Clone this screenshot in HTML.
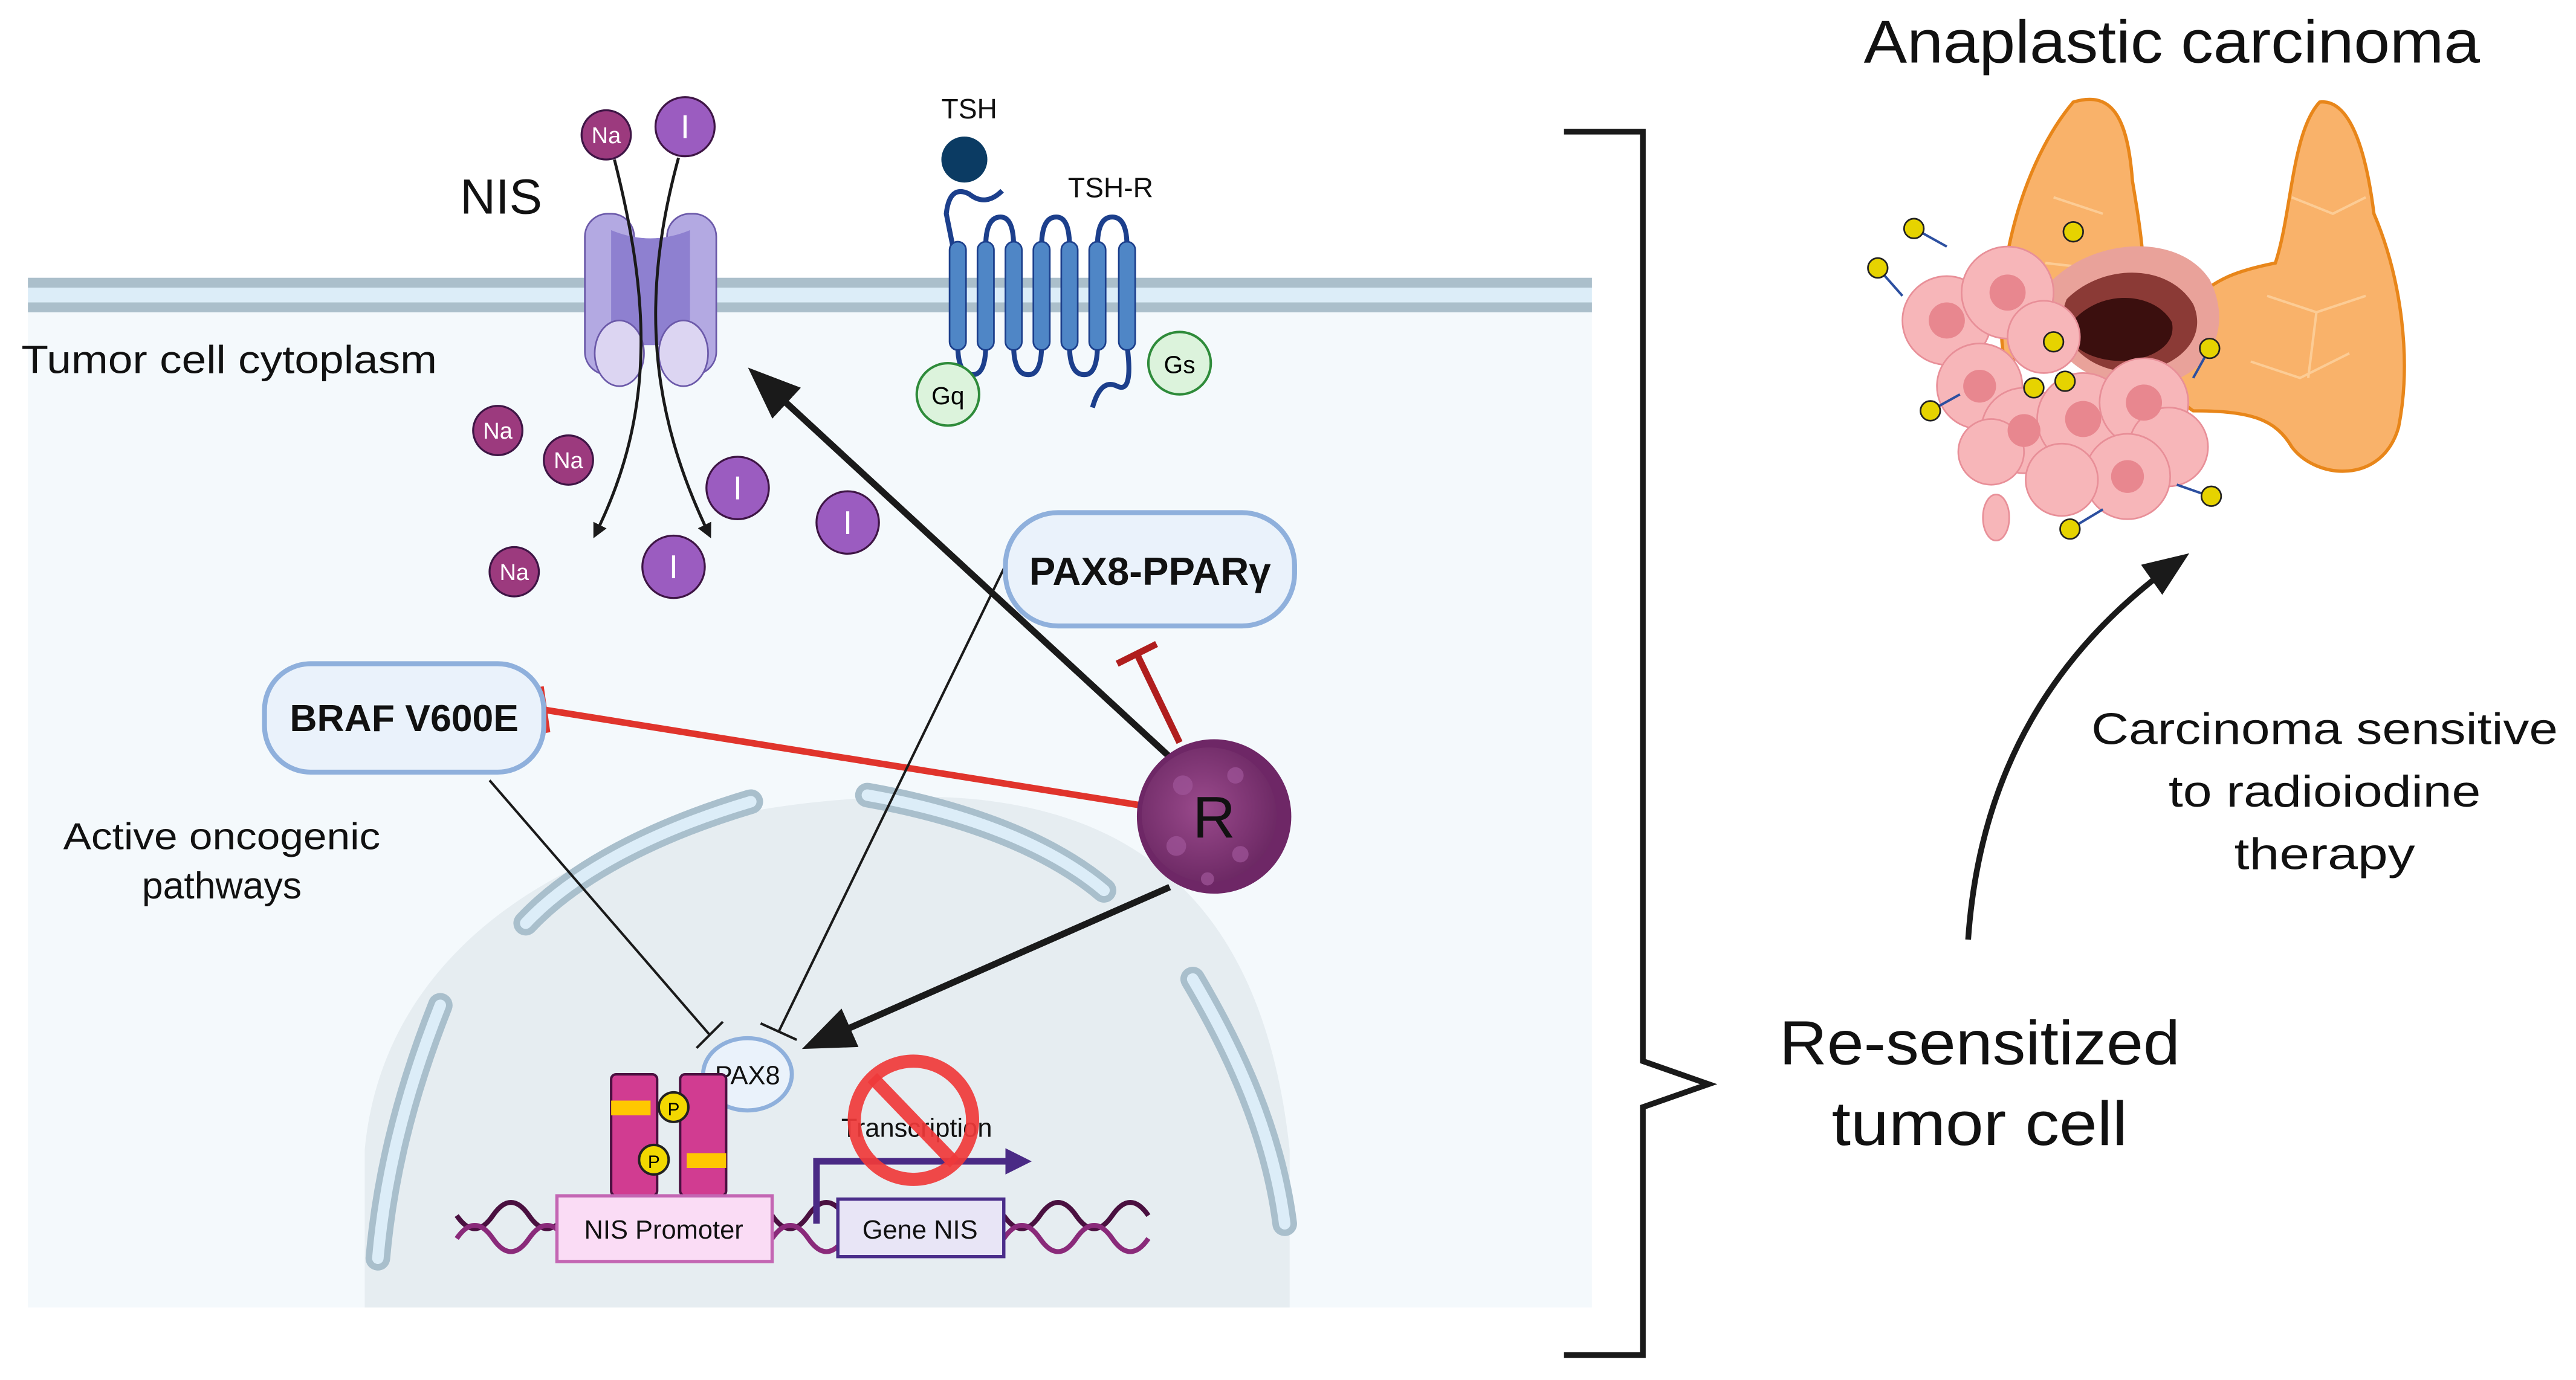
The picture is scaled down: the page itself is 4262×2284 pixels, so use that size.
<!DOCTYPE html>
<html><head><meta charset="utf-8"><style>
html,body{margin:0;padding:0;background:#fff}
svg{display:block}
text{font-family:"Liberation Sans",sans-serif}
</style></head><body>
<svg width="4262" height="2284" viewBox="0 0 1568 840" xmlns="http://www.w3.org/2000/svg">
<defs>
<marker id="ah" viewBox="0 0 10 10" refX="8" refY="5" markerWidth="5" markerHeight="5" orient="auto"><path d="M0,0 L10,5 L0,10 z" fill="#1a1a1a"/></marker>
<marker id="ahs" viewBox="0 0 10 10" refX="8" refY="5" markerWidth="8" markerHeight="8" orient="auto"><path d="M0,1 L10,5 L0,9 z" fill="#1a1a1a"/></marker>
<marker id="ahp" viewBox="0 0 10 10" refX="5" refY="5" markerWidth="4" markerHeight="4" orient="auto"><path d="M0,0 L10,5 L0,10 z" fill="#4a2a85"/></marker>
<radialGradient id="rg" cx="0.45" cy="0.45" r="0.6"><stop offset="0" stop-color="#9a4a8c"/><stop offset="1" stop-color="#6a2762"/></radialGradient>
</defs>
<rect width="1568" height="840" fill="#fff"/>
<rect x="17" y="190" width="952" height="606" fill="#f4f9fc"/>
<rect x="17" y="169" width="952" height="21" fill="#dcedf8"/>
<rect x="17" y="169" width="952" height="6" fill="#abbfcb"/>
<rect x="17" y="184" width="952" height="6" fill="#abbfcb"/>
<path d="M222,796 L222,700 C235,560 380,485 560,485 C700,485 770,560 785,700 L785,796 Z" fill="#e6edf1"/>
<g fill="none" stroke-linecap="round">
<g stroke="#a9bfcc" stroke-width="15">
<path d="M268,612 C245,670 234,720 230,766"/>
<path d="M457,488 C400,505 350,530 320,562"/>
<path d="M528,484 C590,495 640,515 672,542"/>
<path d="M726,596 C752,640 775,690 782,745"/>
</g>
<g stroke="#dcedf8" stroke-width="7">
<path d="M268,612 C245,670 234,720 230,766"/>
<path d="M457,488 C400,505 350,530 320,562"/>
<path d="M528,484 C590,495 640,515 672,542"/>
<path d="M726,596 C752,640 775,690 782,745"/>
</g>
</g>
<rect x="356" y="130" width="30" height="98" rx="14" fill="#b3a9e2" stroke="#6b59a9" stroke-width="1"/>
<rect x="406" y="130" width="30" height="98" rx="14" fill="#b3a9e2" stroke="#6b59a9" stroke-width="1"/>
<path d="M372,140 Q396,150 420,140 L420,210 L372,210 Z" fill="#8e80d0"/>
<ellipse cx="377" cy="215" rx="15" ry="20" fill="#dcd5f2" stroke="#6b59a9" stroke-width="1"/>
<ellipse cx="416" cy="215" rx="15" ry="20" fill="#dcd5f2" stroke="#6b59a9" stroke-width="1"/>
<text x="305" y="130" font-size="30" text-anchor="middle" fill="#111">NIS</text>
<text x="13" y="227" font-size="24" fill="#111" textLength="253" lengthAdjust="spacingAndGlyphs">Tumor cell cytoplasm</text>
<path d="M374,97 C395,180 400,250 362,326" fill="none" stroke="#1a1a1a" stroke-width="1.8" marker-end="url(#ah)"/>
<path d="M413,96 C390,180 395,250 432,326" fill="none" stroke="#1a1a1a" stroke-width="1.8" marker-end="url(#ah)"/>
<g stroke="#3e1545" stroke-width="1.2">
<circle cx="369" cy="82" r="15" fill="#9c3a7e"/>
<circle cx="303" cy="262" r="15" fill="#9c3a7e"/>
<circle cx="346" cy="280" r="15" fill="#9c3a7e"/>
<circle cx="313" cy="348" r="15" fill="#9c3a7e"/>
<circle cx="417" cy="77" r="18" fill="#9b5cc0"/>
<circle cx="449" cy="297" r="19" fill="#9b5cc0"/>
<circle cx="516" cy="318" r="19" fill="#9b5cc0"/>
<circle cx="410" cy="345" r="19" fill="#9b5cc0"/>
</g>
<g fill="#fff" font-size="14" text-anchor="middle">
<text x="369" y="87">Na</text><text x="303" y="267">Na</text><text x="346" y="285">Na</text><text x="313" y="353">Na</text>
<text x="417" y="84" font-size="20">I</text><text x="449" y="304" font-size="20">I</text><text x="516" y="325" font-size="20">I</text><text x="410" y="352" font-size="20">I</text>
</g>
<text x="590" y="72" font-size="17" text-anchor="middle" fill="#111">TSH</text>
<circle cx="587" cy="97" r="14" fill="#0b3b63"/>
<text x="676" y="120" font-size="17" text-anchor="middle" fill="#111">TSH-R</text>
<path d="M610,116 Q600,126 590,118 Q578,112 576,130 L580,150" fill="none" stroke="#1c3f8c" stroke-width="3"/>
<path d="M583,210 Q583,228 592,228 Q600,228 600,210 M600,150 Q600,132 609,132 Q617,132 617,150 M617,210 Q617,228 626,228 Q634,228 634,210 M634,150 Q634,132 643,132 Q651,132 651,150 M651,210 Q651,228 660,228 Q668,228 668,210 M668,150 Q668,132 677,132 Q686,132 686,150 M686,210 Q690,240 680,235 Q670,230 665,248" fill="none" stroke="#1c3f8c" stroke-width="3"/>
<g fill="#4f86c6" stroke="#1c3f8c" stroke-width="1">
<rect x="578" y="147" width="10" height="66" rx="5"/><rect x="595" y="147" width="10" height="66" rx="5"/><rect x="612" y="147" width="10" height="66" rx="5"/><rect x="629" y="147" width="10" height="66" rx="5"/><rect x="646" y="147" width="10" height="66" rx="5"/><rect x="663" y="147" width="10" height="66" rx="5"/><rect x="681" y="147" width="10" height="66" rx="5"/>
</g>
<circle cx="577" cy="240" r="19" fill="#dcf3dc" stroke="#2e8b3a" stroke-width="1.5"/>
<circle cx="718" cy="221" r="19" fill="#dcf3dc" stroke="#2e8b3a" stroke-width="1.5"/>
<text x="577" y="246" font-size="15" text-anchor="middle">Gq</text>
<text x="718" y="227" font-size="15" text-anchor="middle">Gs</text>
<line x1="722" y1="470" x2="460" y2="228" stroke="#1a1a1a" stroke-width="4" marker-end="url(#ahs)"/>
<line x1="693" y1="490" x2="331" y2="432" stroke="#e0342c" stroke-width="4"/>
<line x1="329" y1="418" x2="333" y2="446" stroke="#e0342c" stroke-width="4"/>
<line x1="718" y1="452" x2="692" y2="398" stroke="#b01e1e" stroke-width="4"/>
<line x1="680" y1="404" x2="704" y2="392" stroke="#b01e1e" stroke-width="4"/>
<line x1="298" y1="475" x2="432" y2="630" stroke="#1a1a1a" stroke-width="1.5"/>
<line x1="424" y1="638" x2="440" y2="622" stroke="#1a1a1a" stroke-width="1.5"/>
<line x1="613" y1="342" x2="474" y2="628" stroke="#1a1a1a" stroke-width="1.5"/>
<line x1="463" y1="623" x2="485" y2="633" stroke="#1a1a1a" stroke-width="1.5"/>
<line x1="712" y1="540" x2="494" y2="636" stroke="#1a1a1a" stroke-width="4" marker-end="url(#ahs)"/>
<rect x="612" y="312" width="176" height="69" rx="32" fill="#eaf2fb" stroke="#8fb0dc" stroke-width="3"/>
<text x="700" y="356" font-size="24" font-weight="bold" text-anchor="middle" fill="#111">PAX8-PPARγ</text>
<rect x="161" y="404" width="170" height="66" rx="28" fill="#eaf2fb" stroke="#8fb0dc" stroke-width="3"/>
<text x="246" y="445" font-size="23" font-weight="bold" text-anchor="middle" fill="#111">BRAF V600E</text>
<text x="135" y="517" font-size="23" text-anchor="middle" fill="#111" textLength="193" lengthAdjust="spacingAndGlyphs">Active oncogenic</text>
<text x="135" y="547" font-size="23" text-anchor="middle" fill="#111">pathways</text>
<circle cx="739" cy="497" r="47" fill="#6e2766"/>
<circle cx="736" cy="496" r="41" fill="url(#rg)"/>
<g fill="#a0569a" opacity="0.7"><circle cx="720" cy="478" r="6"/><circle cx="752" cy="472" r="5"/><circle cx="716" cy="515" r="6"/><circle cx="755" cy="520" r="5"/><circle cx="735" cy="535" r="4"/></g>
<text x="739" y="510" font-size="36" text-anchor="middle" fill="#111">R</text>
<ellipse cx="455" cy="654" rx="27" ry="22" fill="#eaf2fb" stroke="#8fb0dc" stroke-width="2.5"/>
<text x="455" y="660" font-size="16" text-anchor="middle" fill="#111">PAX8</text>
<g fill="none" stroke-width="3">
<path d="M278,740 Q289,756 300,740 T322,740 T344,740 M470,740 Q481,756 492,740 T514,740 M611,740 Q622,756 633,740 T655,740 T677,740 T699,740" stroke="#4a1040"/>
<path d="M278,754 Q289,738 300,754 T322,754 T344,754 M470,754 Q481,738 492,754 T514,754 M611,754 Q622,738 633,754 T655,754 T677,754 T699,754" stroke="#8a2a7a"/>
</g>
<rect x="372" y="654" width="28" height="74" rx="3" fill="#d13c91" stroke="#4a1040" stroke-width="1.5"/>
<rect x="414" y="654" width="28" height="74" rx="3" fill="#d13c91" stroke="#4a1040" stroke-width="1.5"/>
<rect x="372" y="670" width="24" height="9" fill="#ffc800"/>
<rect x="418" y="702" width="24" height="9" fill="#ffc800"/>
<circle cx="410" cy="674" r="9" fill="#f2d800" stroke="#222" stroke-width="1.5"/>
<circle cx="398" cy="706" r="9" fill="#f2d800" stroke="#222" stroke-width="1.5"/>
<text x="410" y="679" font-size="11" text-anchor="middle">P</text>
<text x="398" y="711" font-size="11" text-anchor="middle">P</text>
<rect x="339" y="728" width="131" height="40" fill="#fadcf5" stroke="#c366b3" stroke-width="2"/>
<text x="404" y="754" font-size="16" text-anchor="middle" fill="#111">NIS Promoter</text>
<rect x="510" y="730" width="101" height="35" fill="#e8e5f6" stroke="#4a2d8a" stroke-width="2"/>
<text x="560" y="754" font-size="16" text-anchor="middle" fill="#111">Gene NIS</text>
<path d="M497,745 L497,707 L620,707" fill="none" stroke="#4a2a85" stroke-width="4" marker-end="url(#ahp)"/>
<text x="558" y="692" font-size="16" text-anchor="middle" fill="#111">Transcription</text>
<circle cx="556" cy="682" r="36" fill="none" stroke="#f0393a" stroke-width="8" opacity="0.92"/>
<line x1="531" y1="656" x2="581" y2="708" stroke="#f0393a" stroke-width="8" opacity="0.92"/>
<path d="M952,80 L1000,80 L1000,646 L1040,660 L1000,674 L1000,825 L952,825" fill="none" stroke="#1a1a1a" stroke-width="3.5"/>
<text x="1205" y="648" font-size="38" text-anchor="middle" fill="#111" textLength="244" lengthAdjust="spacingAndGlyphs">Re-sensitized</text>
<text x="1205" y="697" font-size="38" text-anchor="middle" fill="#111" textLength="180" lengthAdjust="spacingAndGlyphs">tumor cell</text>
<text x="1415" y="453" font-size="27" text-anchor="middle" fill="#111" textLength="284" lengthAdjust="spacingAndGlyphs">Carcinoma sensitive</text>
<text x="1415" y="491" font-size="27" text-anchor="middle" fill="#111" textLength="190" lengthAdjust="spacingAndGlyphs">to radioiodine</text>
<text x="1415" y="529" font-size="27" text-anchor="middle" fill="#111" textLength="110" lengthAdjust="spacingAndGlyphs">therapy</text>
<path d="M1198,572 C1205,470 1250,395 1328,340" fill="none" stroke="#1a1a1a" stroke-width="3.5" marker-end="url(#ahs)"/>
<text x="1322" y="38" font-size="37" text-anchor="middle" fill="#111" textLength="375" lengthAdjust="spacingAndGlyphs">Anaplastic carcinoma</text>
<g stroke="#e8861a" stroke-width="2">
<path d="M1262,62 C1285,55 1295,70 1298,110 C1303,140 1308,170 1303,200 L1220,220 C1212,170 1230,100 1262,62 Z" fill="#f9b26a"/>
<path d="M1412,62 C1430,60 1440,90 1445,130 C1462,170 1468,220 1460,260 C1450,295 1410,292 1395,272 C1385,255 1370,250 1335,250 C1318,240 1318,200 1338,180 C1350,170 1360,165 1385,160 C1395,130 1395,80 1412,62 Z" fill="#f9b26a"/>
</g>
<g fill="none" stroke="#fcd2a0" stroke-width="1.5" opacity="0.8">
<path d="M1395,120 L1420,130 L1440,120 M1380,180 L1410,190 L1440,180 M1370,220 L1400,230 L1430,215 M1410,190 L1405,230 M1250,120 L1280,130 M1245,160 L1290,165"/>
</g>
<path d="M1245,175 C1270,145 1325,140 1345,170 C1360,200 1345,230 1310,235 C1275,240 1235,210 1245,175 Z" fill="#e9a29a"/>
<path d="M1258,182 C1280,160 1320,160 1335,185 C1345,208 1322,225 1300,226 C1272,228 1248,205 1258,182 Z" fill="#8b3a36"/>
<path d="M1262,195 C1280,175 1312,178 1322,196 C1326,214 1300,222 1283,219 C1265,216 1255,206 1262,195 Z" fill="#3b0f0e"/>
<g fill="#f7b6b9" stroke="#e88f98" stroke-width="1">
<circle cx="1185" cy="195" r="27"/><circle cx="1222" cy="178" r="28"/><circle cx="1244" cy="205" r="22"/><circle cx="1205" cy="235" r="26"/><circle cx="1232" cy="262" r="26"/><circle cx="1268" cy="255" r="28"/><circle cx="1305" cy="245" r="27"/><circle cx="1320" cy="272" r="24"/><circle cx="1295" cy="290" r="26"/><circle cx="1255" cy="292" r="22"/><circle cx="1212" cy="275" r="20"/>
<ellipse cx="1215" cy="315" rx="8" ry="14"/>
</g>
<g fill="#e8878f"><circle cx="1185" cy="195" r="11"/><circle cx="1222" cy="178" r="11"/><circle cx="1205" cy="235" r="10"/><circle cx="1268" cy="255" r="11"/><circle cx="1305" cy="245" r="11"/><circle cx="1295" cy="290" r="10"/><circle cx="1232" cy="262" r="10"/></g>
<g stroke="#2c4fa0" stroke-width="1.5">
<line x1="1143" y1="163" x2="1158" y2="180"/><line x1="1167" y1="140" x2="1185" y2="150"/><line x1="1175" y1="250" x2="1193" y2="240"/><line x1="1260" y1="322" x2="1280" y2="310"/><line x1="1345" y1="302" x2="1325" y2="295"/><line x1="1345" y1="212" x2="1335" y2="230"/>
</g>
<g fill="#e6d300" stroke="#222" stroke-width="1">
<circle cx="1143" cy="163" r="6"/><circle cx="1165" cy="139" r="6"/><circle cx="1262" cy="141" r="6"/><circle cx="1175" cy="250" r="6"/><circle cx="1250" cy="208" r="6"/><circle cx="1238" cy="236" r="6"/><circle cx="1257" cy="232" r="6"/><circle cx="1345" cy="212" r="6"/><circle cx="1346" cy="302" r="6"/><circle cx="1260" cy="322" r="6"/>
</g>
</svg>
</body></html>
